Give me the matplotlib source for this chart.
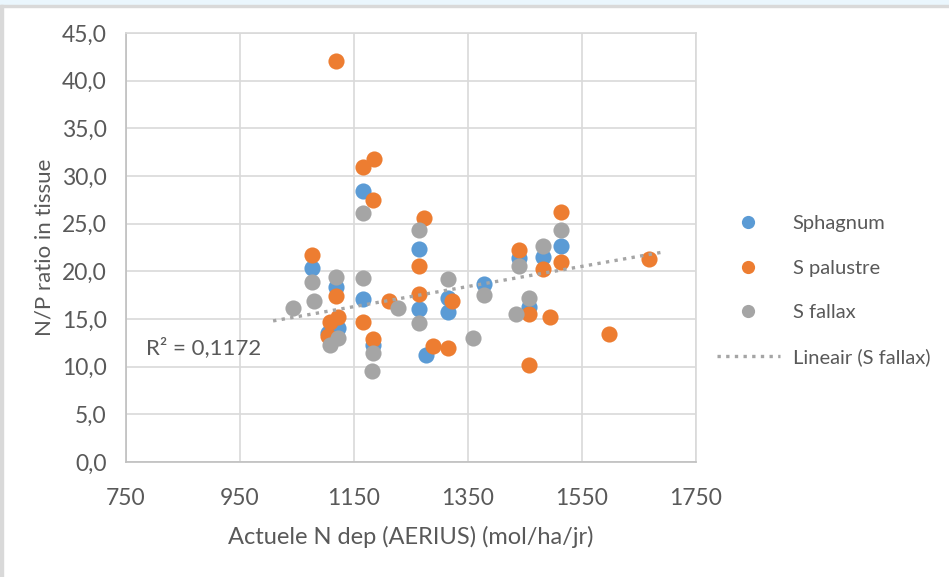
import matplotlib.pyplot as plt
from matplotlib.lines import Line2D
from matplotlib.patches import Rectangle

plt.rcParams['font.family'] = ['Lato', 'DejaVu Sans']

# N deposition (mol/ha/jr) and N/P ratio per series
sphagnum_x = [1165, 1076, 1118, 1122, 1105, 1165, 1184, 1264, 1264, 1315, 1315,
              1277, 1378, 1440, 1482, 1513, 1457]
sphagnum_y = [28.4, 20.3, 18.4, 14.1, 13.5, 17.1, 12.3, 22.3, 16.1, 17.2, 15.7,
              11.2, 18.7, 21.4, 21.5, 22.7, 16.3]

palustre_x = [1118, 1185, 1165, 1183, 1272, 1264, 1076, 1118, 1108, 1122, 1105,
              1165, 1184, 1211, 1264, 1322, 1289, 1315, 1440, 1482, 1513, 1513,
              1668, 1457, 1493, 1597, 1457]
palustre_y = [42.1, 31.8, 30.9, 27.5, 25.6, 20.6, 21.7, 17.4, 14.7, 15.2, 13.2,
              14.7, 12.9, 16.9, 17.6, 16.9, 12.2, 12.0, 22.2, 20.2, 26.2, 21.0,
              21.3, 15.5, 15.2, 13.4, 10.2]

fallax_x = [1165, 1264, 1076, 1079, 1043, 1118, 1122, 1107, 1165, 1184, 1181,
            1228, 1264, 1315, 1359, 1378, 1440, 1482, 1513, 1457, 1434]
fallax_y = [26.1, 24.3, 18.9, 16.9, 16.2, 19.4, 13.0, 12.3, 19.3, 11.4, 9.5,
            16.2, 14.6, 19.2, 13.0, 17.5, 20.6, 22.7, 24.3, 17.2, 15.5]

# Excel linear trendline for S fallax (end points as drawn)
trend_x = [1008, 1690]
trend_y = [14.8, 22.0]
r2_label = 'R² = 0,1172'

x_ticks = [750, 950, 1150, 1350, 1550, 1750]
y_ticks = [0, 5, 10, 15, 20, 25, 30, 35, 40, 45]

blue = '#5B9BD5'
orange = '#ED7D31'
gray = '#A5A5A5'
text_col = '#595959'
grid_col = '#D9D9D9'
dots = (0, (1, 1.6))

fig = plt.figure(figsize=(9.49, 5.77), dpi=100)
ax = fig.add_axes([0.1328, 0.1993, 0.6006, 0.7435])

ax.scatter(sphagnum_x, sphagnum_y, s=135, color=blue, zorder=3, linewidths=0)
ax.scatter(palustre_x, palustre_y, s=135, color=orange, zorder=3, linewidths=0)
ax.scatter(fallax_x, fallax_y, s=135, color=gray, zorder=3, linewidths=0)
ax.plot(trend_x, trend_y, color=gray, linestyle=dots, linewidth=2.4, zorder=4)

ax.set_xlim(750, 1750)
ax.set_ylim(0, 45)
ax.set_xticks(x_ticks)
ax.set_yticks(y_ticks)
ax.set_yticklabels([f'{v:.1f}'.replace('.', ',') for v in y_ticks])
ax.grid(True, color=grid_col, linewidth=1.2)
ax.set_axisbelow(True)
for sp in ax.spines.values():
    sp.set_color(grid_col)
    sp.set_linewidth(1.2)
ax.spines['left'].set_color('#BFBFBF')
ax.spines['bottom'].set_color('#BFBFBF')
ax.tick_params(length=0, labelsize=16.5, colors=text_col)
ax.tick_params(axis='x', pad=19)
ax.tick_params(axis='y', pad=14)

ax.set_xlabel('Actuele N dep (AERIUS) (mol/ha/jr)', fontsize=17,
              color=text_col, labelpad=12)
ax.set_ylabel('N/P ratio in tissue', fontsize=16, color=text_col, labelpad=5)

ax.text(0.035, 0.266, r2_label, transform=ax.transAxes, fontsize=16,
        color=text_col, va='center')

handles = [
    Line2D([], [], marker='o', linestyle='none', markersize=9.5,
           markerfacecolor=blue, markeredgewidth=0),
    Line2D([], [], marker='o', linestyle='none', markersize=9.5,
           markerfacecolor=orange, markeredgewidth=0),
    Line2D([], [], marker='o', linestyle='none', markersize=9.5,
           markerfacecolor=gray, markeredgewidth=0),
    Line2D([], [], color=gray, linestyle=dots, linewidth=2.4),
]
labels = ['Sphagnum', 'S palustre', 'S fallax', 'Lineair (S fallax)']
fig.legend(handles, labels, loc='center left', bbox_to_anchor=(0.7366, 0.496),
           frameon=False, fontsize=14.5, labelcolor=text_col, labelspacing=1.36,
           handlelength=3.1, handletextpad=0.65)

# frame of the screenshot
fig.patches.append(Rectangle((0, 1 - 5 / 577), 1, 5 / 577,
                             transform=fig.transFigure, color='#EAF6FD'))
fig.patches.append(Rectangle((0, 1 - 6.5 / 577), 1, 2 / 577,
                             transform=fig.transFigure, color='#D9D9D9'))
fig.patches.append(Rectangle((0, 0), 2.5 / 949, 1 - 5 / 577,
                             transform=fig.transFigure, color='#D9D9D9'))

fig.savefig('out.png', dpi=100)
